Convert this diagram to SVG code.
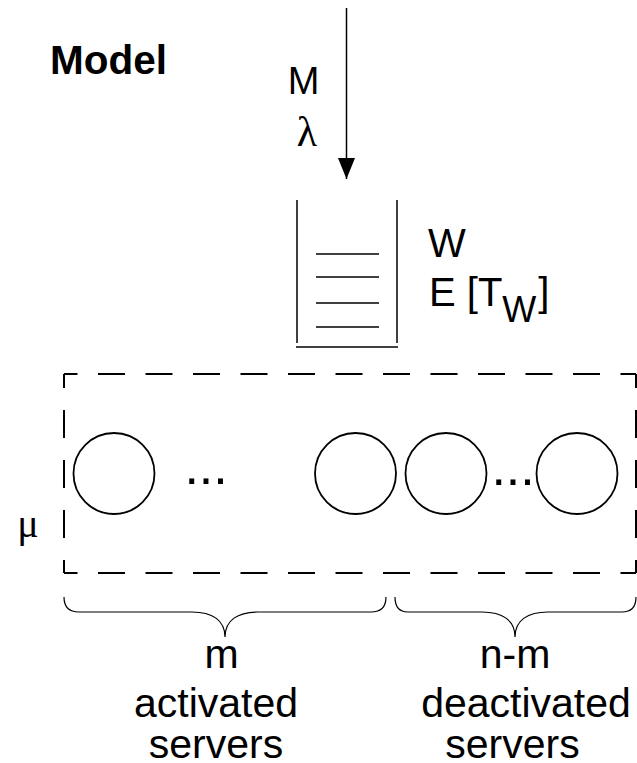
<svg xmlns="http://www.w3.org/2000/svg" width="637" height="763" viewBox="0 0 637 763">
<style>
.t{font-family:"Liberation Sans",Arial,sans-serif;fill:#000}
.s{font-family:"Liberation Serif","Times New Roman",serif;fill:#000}
.ln{stroke:#000;stroke-width:1.5;fill:none}
.srv{stroke:#000;stroke-width:1.8;fill:#fff}
.dh{stroke:#000;stroke-width:2;fill:none;stroke-dasharray:27 20.5;stroke-dashoffset:13.5}
.dv{stroke:#000;stroke-width:2;fill:none;stroke-dasharray:28 22;stroke-dashoffset:14}
.br{stroke:#000;stroke-width:1.2;fill:none}
</style>
<defs>
<marker id="ah" viewBox="0 0 21 17" refX="21" refY="8.5" markerWidth="21" markerHeight="17" markerUnits="userSpaceOnUse" orient="auto">
<path d="M0,0 L21,8.5 L0,17 Z" fill="#000"/>
</marker>
</defs>
<rect width="637" height="763" fill="#fff"/>
<g id="title"><text class="t" x="50" y="74" font-size="40.5" font-weight="bold">Model</text></g>
<g id="connectors">
<line x1="346.5" y1="8" x2="346.5" y2="179" stroke="#000" stroke-width="1.5" marker-end="url(#ah)"/>
</g>
<g id="arrival-labels">
<text class="t" x="303.5" y="94" font-size="38" text-anchor="middle">M</text>
<text class="s" x="307" y="146" font-size="42" text-anchor="middle">λ</text>
</g>
<g id="queue">
<line class="ln" x1="297" y1="200" x2="297" y2="343"/>
<line class="ln" x1="397" y1="200" x2="397" y2="343"/>
<line class="ln" x1="296" y1="347" x2="398" y2="347"/>
<line class="ln" x1="316" y1="254" x2="379" y2="254"/>
<line class="ln" x1="316" y1="277" x2="379" y2="277"/>
<line class="ln" x1="316" y1="303" x2="379" y2="303"/>
<line class="ln" x1="316" y1="327" x2="379" y2="327"/>
</g>
<g id="queue-labels">
<text class="t" x="428" y="257" font-size="40">W</text>
<text class="t" x="429" y="306" font-size="40">E [T<tspan font-size="36" dy="16">W</tspan><tspan dy="-16" dx="2">]</tspan></text>
</g>
<g id="server-pool">
<line class="dh" x1="64" y1="374" x2="636" y2="374"/>
<line class="dh" x1="64" y1="573" x2="636" y2="573"/>
<line class="dv" x1="64" y1="374" x2="64" y2="573"/>
<line class="dv" x1="636" y1="374" x2="636" y2="573"/>
</g>
<g id="server-1"><circle class="srv" cx="114" cy="473.5" r="40.5"/></g>
<g id="server-m"><circle class="srv" cx="355.5" cy="473.5" r="40.5"/></g>
<g id="server-m1"><circle class="srv" cx="446" cy="473.5" r="40.5"/></g>
<g id="server-n"><circle class="srv" cx="577" cy="473.5" r="40.5"/></g>
<g id="dots">
<text class="t" x="184.4" y="484" font-size="52">...</text>
<text class="t" x="491.4" y="485" font-size="52">...</text>
</g>
<g id="mu"><text class="s" x="28" y="537" font-size="40" text-anchor="middle">μ</text></g>
<g id="brace-activated">
<path class="br" d="M64,597 Q64,612 79,612 H192 C212,612 225,620 225,637 C225,620 238,612 258,612 H371 Q386,612 386,597"/>
<text class="t" x="221.5" y="668" font-size="41" text-anchor="middle">m</text>
<text class="t" x="216" y="717" font-size="41" text-anchor="middle">activated</text>
<text class="t" x="216" y="758" font-size="41" text-anchor="middle">servers</text>
</g>
<g id="brace-deactivated">
<path class="br" d="M395,597 Q395,612 408,612 H482 C502,612 515,620 515,637 C515,620 528,612 548,612 H622 Q636,612 636,597"/>
<text class="t" x="515" y="668" font-size="41" text-anchor="middle">n-m</text>
<text class="t" x="526" y="717" font-size="41" text-anchor="middle">deactivated</text>
<text class="t" x="512.5" y="758" font-size="41" text-anchor="middle">servers</text>
</g>
</svg>
